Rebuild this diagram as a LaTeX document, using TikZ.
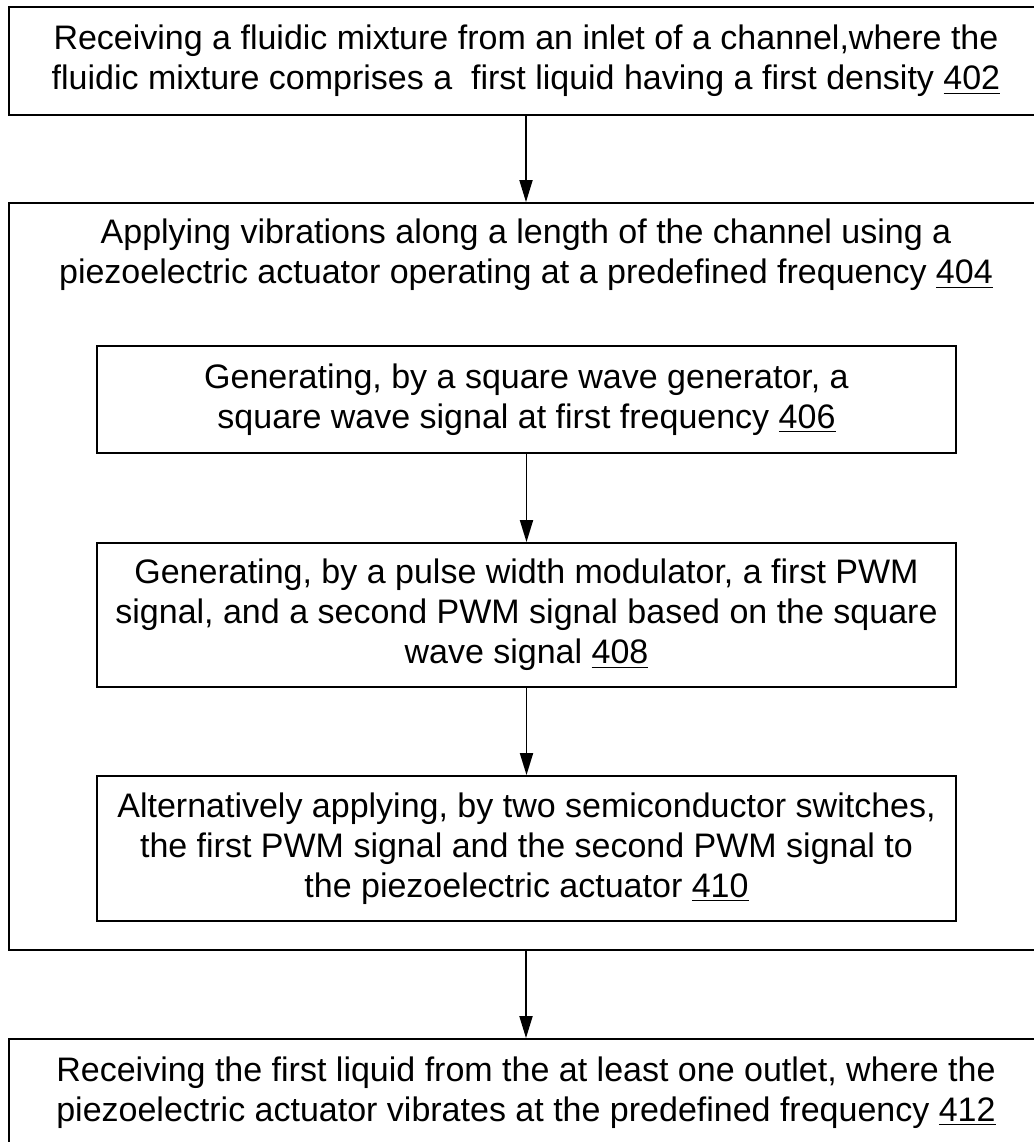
\documentclass[tikz,border=0pt]{standalone}
\usepackage{fontspec}
\setmainfont{Liberation Sans}
\usetikzlibrary{arrows.meta}

\begin{document}
\begin{tikzpicture}
[
    every node/.style = {font = \fontsize{17}{20}\selectfont},
    stepbox/.style = {draw, line width = 0.9pt, align = center, inner sep = 0pt, minimum width = 429.5pt},
    widebox/.style = {stepbox, minimum width = 517pt},
    flow/.style = {-{Triangle[length = 11pt, width = 6.5pt]}, line width = 0.9pt},
]
    \useasboundingbox (0,0) rectangle (517pt,-571pt);

    \node[widebox, minimum height = 54pt] (b402) at (263pt,-30.5pt)
        {Receiving a fluidic mixture from an inlet of a channel,where the\\
         fluidic mixture comprises a\ \ first liquid having a first density \underline{402}};

    \node[widebox, minimum height = 373.5pt] (b404) at (263pt,-288.25pt) {};
    \node[align = center] (t404) at (263pt,-127.5pt)
        {Applying vibrations along a length of the channel using a\\
         piezoelectric actuator operating at a predefined frequency \underline{404}};

    \node[stepbox, minimum height = 53.5pt] (b406) at (263.25pt,-199.75pt)
        {Generating, by a square wave generator, a\\
         square wave signal at first frequency \underline{406}};
    \node[stepbox, minimum height = 72pt] (b408) at (263.25pt,-307.5pt)
        {Generating, by a pulse width modulator, a first PWM\\
         signal, and a second PWM signal based on the square\\
         wave signal \underline{408}};
    \node[stepbox, minimum height = 72.5pt] (b410) at (263.25pt,-424.25pt)
        {Alternatively applying, by two semiconductor switches,\\
         the first PWM signal and the second PWM signal to\\
         the piezoelectric actuator \underline{410}};

    \node[widebox, minimum height = 54pt] (b412) at (263pt,-546.5pt)
        {Receiving the first liquid from the at least one outlet, where the\\
         piezoelectric actuator vibrates at the predefined frequency \underline{412}};

    \draw[flow] (b402) -- (b404);
    \draw[flow] (b406) -- (b408);
    \draw[flow] (b408) -- (b410);
    \draw[flow] (b404) -- (b412);
\end{tikzpicture}
\end{document}
